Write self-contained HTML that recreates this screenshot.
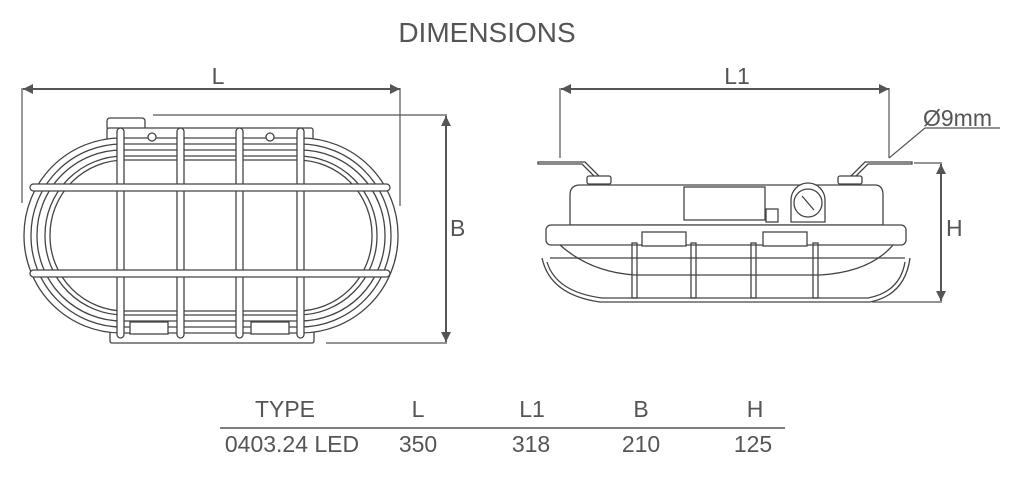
<!DOCTYPE html>
<html><head><meta charset="utf-8"><style>
html,body{margin:0;padding:0;background:#fff;}
svg{display:block;}
text{font-family:"Liberation Sans",sans-serif;fill:#555;}
</style></head><body>
<svg width="1017" height="480" viewBox="0 0 1017 480" xmlns="http://www.w3.org/2000/svg">
<defs>
<marker id="a" viewBox="0 0 10 10" refX="10" refY="5" markerWidth="14" markerHeight="10" markerUnits="userSpaceOnUse" orient="auto-start-reverse"><path d="M0,0 L10,5 L0,10 z" fill="#555"/></marker>
</defs>
<text x="487" y="42" font-size="28" text-anchor="middle">DIMENSIONS</text>

<!-- LEFT dims -->
<g stroke="#555" stroke-width="1.2" fill="none">
<line x1="23" y1="89" x2="400" y2="89" stroke-width="2" marker-start="url(#a)" marker-end="url(#a)"/>
<line x1="22" y1="88" x2="22" y2="203"/>
<line x1="400" y1="88" x2="400" y2="206"/>
<line x1="153" y1="115" x2="447" y2="115"/>
<line x1="326" y1="343" x2="447" y2="343"/>
<line x1="446" y1="116" x2="446" y2="342" stroke-width="2" marker-start="url(#a)" marker-end="url(#a)"/>
</g>
<text x="218" y="84" font-size="23" text-anchor="middle">L</text>
<text x="450" y="236" font-size="23">B</text>

<!-- LEFT lamp -->
<g stroke="#444" stroke-width="1.3" fill="#fff">
<rect x="107" y="118" width="38" height="12" rx="3"/>
<rect x="107" y="128" width="206" height="20" rx="2"/>
<rect x="110" y="318" width="204" height="25" rx="2"/>
<rect x="24" y="138" width="374" height="195" rx="97"/>
<rect x="31" y="144" width="360" height="183" rx="91" fill="none"/>
<rect x="37" y="150" width="348" height="171" rx="85" fill="none"/>
<rect x="45" y="156" width="332" height="159" rx="79" fill="none"/>
<rect x="50" y="160" width="322" height="151" rx="75" fill="none"/>
<circle cx="152" cy="137" r="4"/><circle cx="270" cy="137" r="4"/>
<rect x="130" y="322" width="38" height="12"/>
<rect x="251" y="322" width="38" height="12"/>
<g fill="#fff">
<rect x="117" y="128" width="7" height="210" rx="3.5"/>
<rect x="177" y="128" width="7" height="210" rx="3.5"/>
<rect x="236" y="128" width="7" height="210" rx="3.5"/>
<rect x="297" y="128" width="7" height="210" rx="3.5"/>
<rect x="30" y="184" width="360" height="7" rx="3.5"/>
<rect x="30" y="270" width="360" height="7" rx="3.5"/>
</g>
</g>

<!-- RIGHT dims -->
<g stroke="#555" stroke-width="1.2" fill="none">
<line x1="561" y1="89" x2="889" y2="89" stroke-width="2" marker-start="url(#a)" marker-end="url(#a)"/>
<line x1="560" y1="88" x2="560" y2="158"/>
<line x1="889" y1="88" x2="889" y2="158"/>
<line x1="889" y1="158" x2="925" y2="128"/>
<line x1="925" y1="128" x2="1000" y2="128"/>
<line x1="914" y1="163" x2="942" y2="163"/>
<line x1="872" y1="302" x2="942" y2="302"/>
<line x1="941" y1="164" x2="941" y2="301" stroke-width="2" marker-start="url(#a)" marker-end="url(#a)"/>
</g>
<text x="737" y="84" font-size="23" text-anchor="middle">L1</text>
<text x="923" y="126" font-size="23">Ø9mm</text>
<text x="946" y="236" font-size="23">H</text>

<!-- RIGHT lamp -->
<g stroke="#444" stroke-width="1.3" fill="#fff">
<path d="M538,164 L582,164 L596,178 L599,176 L585,162 L538,162 Z"/>
<path d="M912,164 L868,164 L854,178 L851,176 L865,162 L912,162 Z"/>
<rect x="587" y="176" width="24" height="8" rx="2"/>
<rect x="838" y="176" width="24" height="8" rx="2"/>
<path d="M570,225 L570,195 Q570,185 580,185 L875,185 Q883,185 883,195 L883,225 Z"/>
<rect x="546" y="225" width="360" height="20" rx="5"/>
<rect x="684" y="187" width="81" height="33"/>
<rect x="766" y="209" width="12" height="13"/>
<path d="M791,222 L791,200 A17,17 0 0 1 825,200 L825,222 Z"/>
<circle cx="808" cy="203" r="14"/>
<path d="M802,196 L814,210" />
<rect x="642" y="232" width="44" height="14"/>
<rect x="763" y="232" width="44" height="14"/>
<path d="M560,245 Q590,272 635,275 L820,275 Q870,272 893,245" fill="none"/>
<path d="M542,258 Q550,295 600,302 L870,302 Q905,295 910,258" fill="none"/>
<path d="M547,262 Q556,292 602,298 L868,298 Q900,292 905,262" fill="none"/>
<line x1="550" y1="258" x2="905" y2="258"/>
<rect x="632" y="243" width="5" height="55" fill="none"/>
<rect x="691" y="243" width="5" height="55" fill="none"/>
<rect x="751" y="243" width="5" height="55" fill="none"/>
<rect x="813" y="243" width="5" height="55" fill="none"/>
</g>

<!-- table -->
<g font-size="23" text-anchor="middle">
<text x="285" y="417">TYPE</text>
<text x="418" y="417">L</text>
<text x="532" y="417">L1</text>
<text x="641" y="417">B</text>
<text x="755" y="417">H</text>
<text x="292" y="452">0403.24 LED</text>
<text x="418" y="452">350</text>
<text x="531" y="452">318</text>
<text x="641" y="452">210</text>
<text x="753" y="452">125</text>
</g>
<line x1="220" y1="428" x2="785" y2="428" stroke="#555" stroke-width="1.5"/>
</svg>
</body></html>
